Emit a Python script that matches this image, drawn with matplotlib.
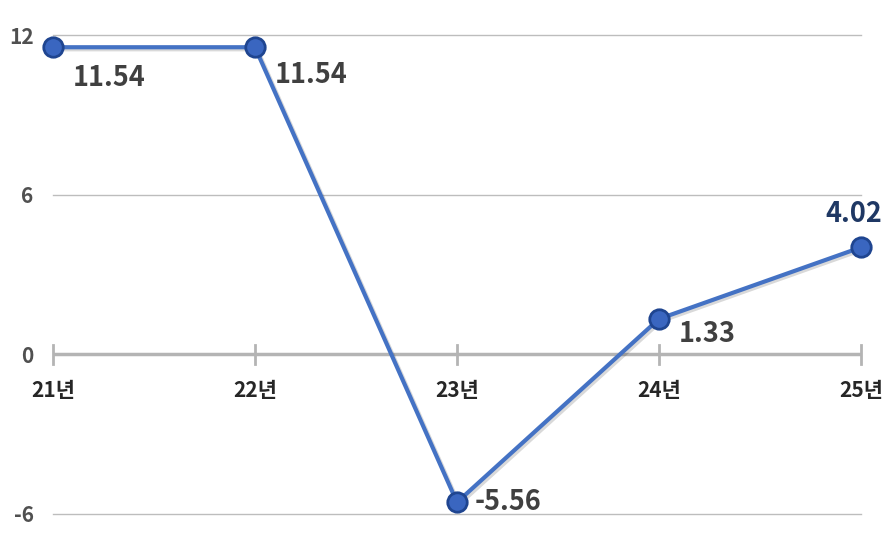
import matplotlib
matplotlib.use("Agg")
from matplotlib import pyplot as plt
import matplotlib.patheffects as pe

plt.rcParams['font.family'] = ['Noto Sans CJK KR', 'DejaVu Sans']

years = ["21년", "22년", "23년", "24년", "25년"]
values = [11.54, 11.54, -5.56, 1.33, 4.02]
yticks = [-6, 0, 6, 12]

fig = plt.figure(figsize=(8.86, 5.37), dpi=100)
ax = fig.add_axes([53 / 886, 1 - 514 / 537, (861 - 53) / 886, (514 - 35) / 537])
xs = list(range(len(years)))

# grid lines
for y in yticks:
    if y == 0:
        continue
    ax.axhline(y, color="#bdbdbd", lw=1, zorder=0, clip_on=False)
ax.axhline(0, color="#b4b4b4", lw=2.5, zorder=1)
for x in xs:
    ax.plot([x, x], [-0.35, 0.35], color="#b4b4b4", lw=2, zorder=1, clip_on=False)

shadow = [pe.SimpleLineShadow(offset=(1.5, -1.5), alpha=0.15), pe.Normal()]
ax.plot(xs, values, color="#4472C4", lw=3, zorder=3, path_effects=shadow, clip_on=False)
ax.plot(xs, values, "o", ms=14, mfc="#3a66c0", mec="#1f4590", mew=2, zorder=4, clip_on=False)

offsets = [(14, -22), (14, -20), (13, 0), (14, -11), (-5, 24)]
aligns = [("left", "center"), ("left", "center"), ("left", "center"),
          ("left", "center"), ("center", "center")]
colors = ["#404040", "#404040", "#404040", "#404040", "#1f3864"]
for x, v, off, al, c in zip(xs, values, offsets, aligns, colors):
    ax.annotate(f"{v:.2f}", (x, v), xytext=off, textcoords="offset points",
                ha=al[0], va=al[1], fontsize=19.5, fontweight="bold", color=c,
                zorder=5, annotation_clip=False)

ax.set_xlim(0, 4)
ax.set_ylim(-6, 12)
ax.set_yticks(yticks)
ax.set_yticklabels([str(t) for t in yticks], fontsize=15, fontweight="bold", color="#505050")
ax.set_xticks([])
for x, lab in zip(xs, years):
    ax.text(x, -1.35, lab, ha="center", va="center", fontsize=15,
            fontweight="bold", color="#262626")
ax.tick_params(axis="y", length=0, pad=14)
for s in ax.spines.values():
    s.set_visible(False)

fig.savefig("out.png", dpi=100)
